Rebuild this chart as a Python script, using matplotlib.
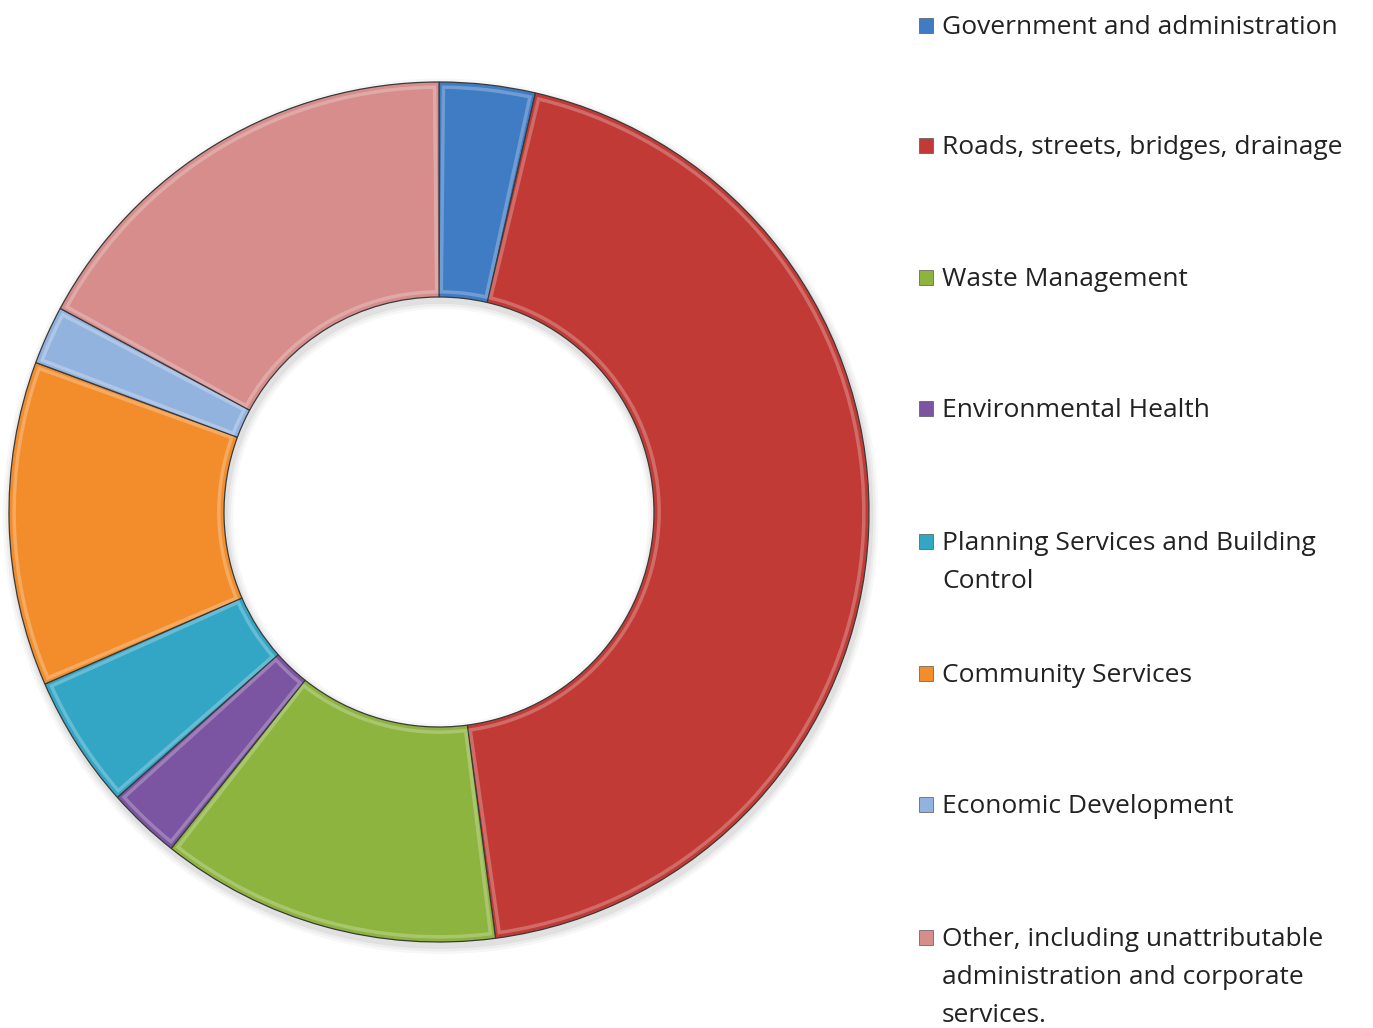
import matplotlib.pyplot as plt
from matplotlib.patches import Rectangle, Wedge

# Share of spending by service area (percent)
categories = [
    'Government and administration',
    'Roads, streets, bridges, drainage',
    'Waste Management',
    'Environmental Health',
    'Planning Services and Building\nControl',
    'Community Services',
    'Economic Development',
    'Other, including unattributable\nadministration and corporate\nservices.',
]
shares = [3.6, 44.3, 12.8, 2.75, 5.0, 12.2, 2.2, 17.15]
colors = ['#3f7cc4', '#c23a36', '#8db43f', '#7b54a2', '#33a6c6',
          '#f38d2b', '#93b3df', '#d68d8c']

W, H = 1373, 1028
fig = plt.figure(figsize=(W / 100, H / 100), dpi=100)

# donut axes: centre at (439, 512) px, outer radius 430 px
cx, cy, r_px = 439, 512, 430
box = 445
ax = fig.add_axes([(cx - box) / W, (H - cy - box) / H, 2 * box / W, 2 * box / H])
ax.axis('off')

# soft shadow under the ring
for k, a in enumerate([0.05, 0.04, 0.03]):
    ax.add_patch(Wedge((0.004, -0.01), 1.0 + 0.006 * (k + 1), 0, 360,
                       width=0.5 + 0.012 * (k + 1), color='#000000', alpha=a, lw=0))

wedges, _ = ax.pie(shares, colors=colors, startangle=90, counterclock=False,
                   radius=1.0, wedgeprops=dict(width=0.5, edgecolor='#3a3a3a',
                                               linewidth=0.9))

# light bevel: thin lighter inset ring on each wedge
for w, c in zip(wedges, colors):
    ax.add_patch(Wedge(w.center, w.r - 0.012, w.theta1 + 0.6, w.theta2 - 0.6,
                       width=w.width - 0.024, facecolor='none',
                       edgecolor='white', alpha=0.25, linewidth=2.5))

# pie() resets the limits, so fix them afterwards
ax.set_xlim(-box / r_px, box / r_px)
ax.set_ylim(-box / r_px, box / r_px)
ax.set_aspect('equal')

# legend drawn as labelled squares down the right side
label_y = [25, 145, 277, 408, 541, 673, 804, 937]
line_gap = 38
for name, c, y in zip(categories, colors, label_y):
    fig.patches.append(Rectangle((919 / W, (H - y - 8) / H), 14 / W, 15 / H,
                                 transform=fig.transFigure, facecolor=c,
                                 edgecolor='#555555', linewidth=0.5))
    for i, line in enumerate(name.split('\n')):
        fig.text(942 / W, (H - y - 9 - i * line_gap) / H, line, fontsize=19,
                 family='Open Sans', color='#222222', ha='left', va='baseline')

fig.savefig('out.png', dpi=100, facecolor='white')
